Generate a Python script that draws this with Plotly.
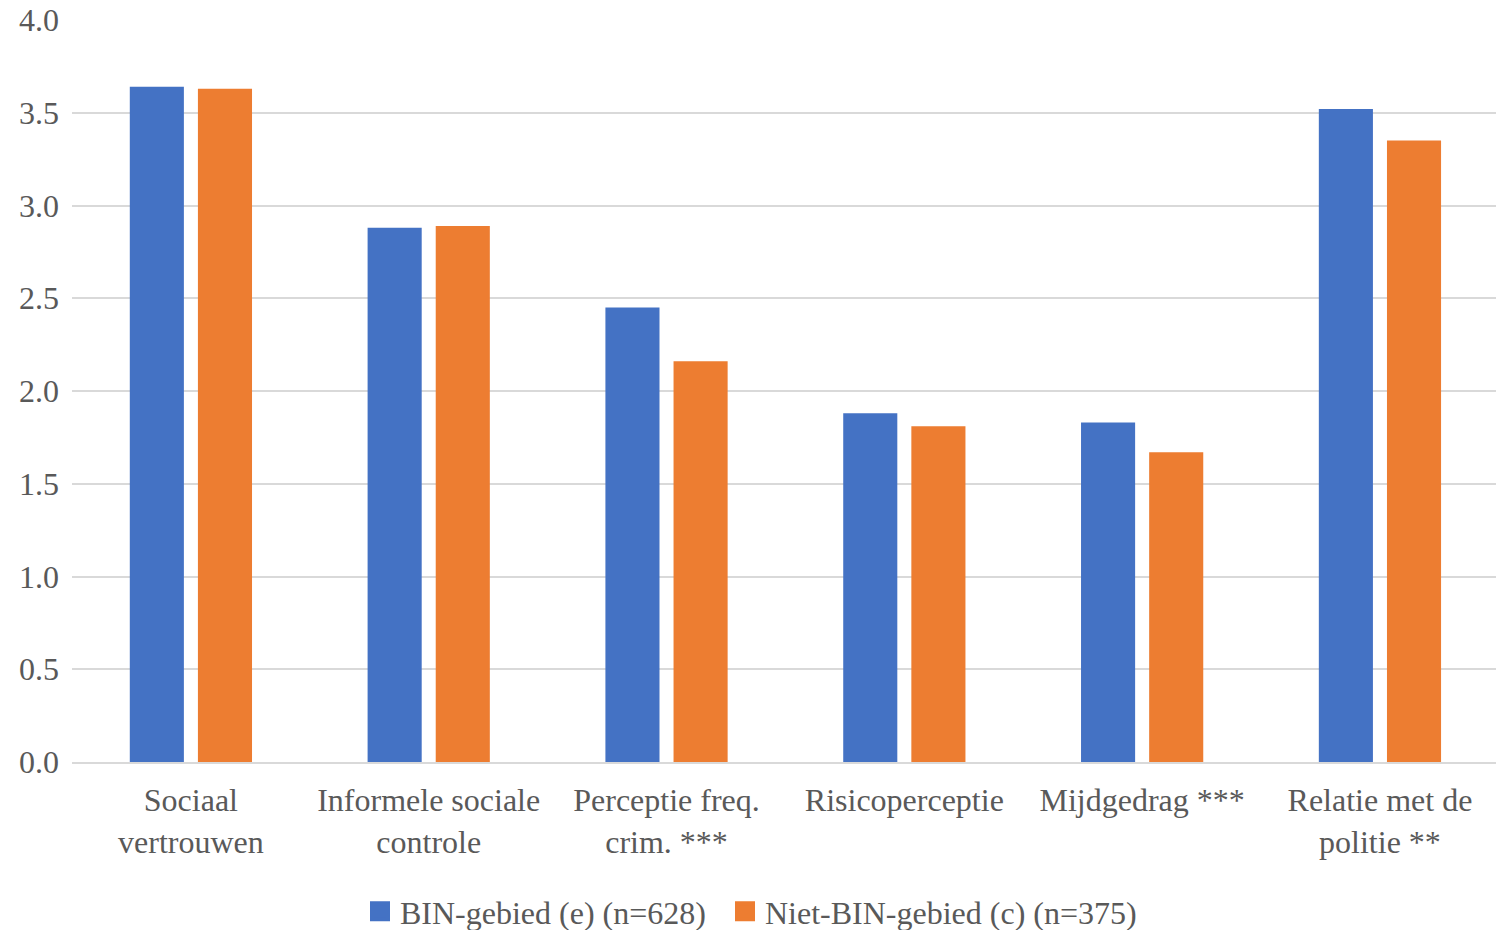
import plotly.graph_objects as go

categories = [
    "Sociaal<br>vertrouwen",
    "Informele sociale<br>controle",
    "Perceptie freq.<br>crim. ***",
    "Risicoperceptie",
    "Mijdgedrag ***",
    "Relatie met de<br>politie **",
]
bin_values = [3.64, 2.88, 2.45, 1.88, 1.83, 3.52]
niet_bin_values = [3.63, 2.89, 2.16, 1.81, 1.67, 3.35]
series_names = ["BIN-gebied (e) (n=628)", "Niet-BIN-gebied (c) (n=375)"]
series_colors = ["#4472C4", "#ED7D31"]
y_ticks = [0, 0.5, 1.0, 1.5, 2.0, 2.5, 3.0, 3.5, 4.0]

font_family = "Liberation Serif, Times New Roman, serif"
text_color = "#595959"
fs = 32
W, H = 1496, 930

fig = go.Figure()
for vals, name, color in zip([bin_values, niet_bin_values], series_names, series_colors):
    fig.add_trace(go.Bar(x=categories, y=vals, name=name, showlegend=False,
                         legendgroup=name,
                         marker=dict(color=color, line=dict(width=0))))
# legend keys drawn as larger square swatches, one legend box per series
for i, (name, color) in enumerate(zip(series_names, series_colors)):
    fig.add_trace(go.Scatter(x=[None], y=[None], mode="markers", name=name,
                             legendgroup=name, legend="legend" if i == 0 else "legend2",
                             marker=dict(symbol="square", size=16, color=color,
                                         line=dict(width=4, color=color))))

legend_common = dict(orientation="h", xref="container", xanchor="left",
                     yref="container", y=0.02, yanchor="middle",
                     font=dict(size=fs, color=text_color), itemwidth=30,
                     bgcolor="rgba(0,0,0,0)")

fig.update_layout(
    width=W, height=H,
    margin=dict(l=72, r=0, t=20, b=168, autoexpand=False),
    paper_bgcolor="white", plot_bgcolor="white",
    barmode="group", bargap=0.427, bargroupgap=0.206,
    font=dict(family=font_family, size=fs, color=text_color),
    showlegend=True,
    legend=dict(x=360 / W, **legend_common),
    legend2=dict(x=725 / W, **legend_common),
    xaxis=dict(showgrid=False, showline=True, linecolor="#D9D9D9", linewidth=1.5,
               automargin=False, range=[-0.5, 5.488],
               ticks="", ticklabelstandoff=9, tickfont=dict(size=fs, color=text_color)),
    yaxis=dict(range=[0, 4.0], tickvals=y_ticks, ticktext=[f"{v:.1f}" for v in y_ticks],
               automargin=False,
               showgrid=True, gridcolor="#D9D9D9", gridwidth=1.5,
               zeroline=False, showline=False, ticks="", ticklabelstandoff=12,
               tickfont=dict(size=fs, color=text_color)),
)

fig.write_html("out.html")
